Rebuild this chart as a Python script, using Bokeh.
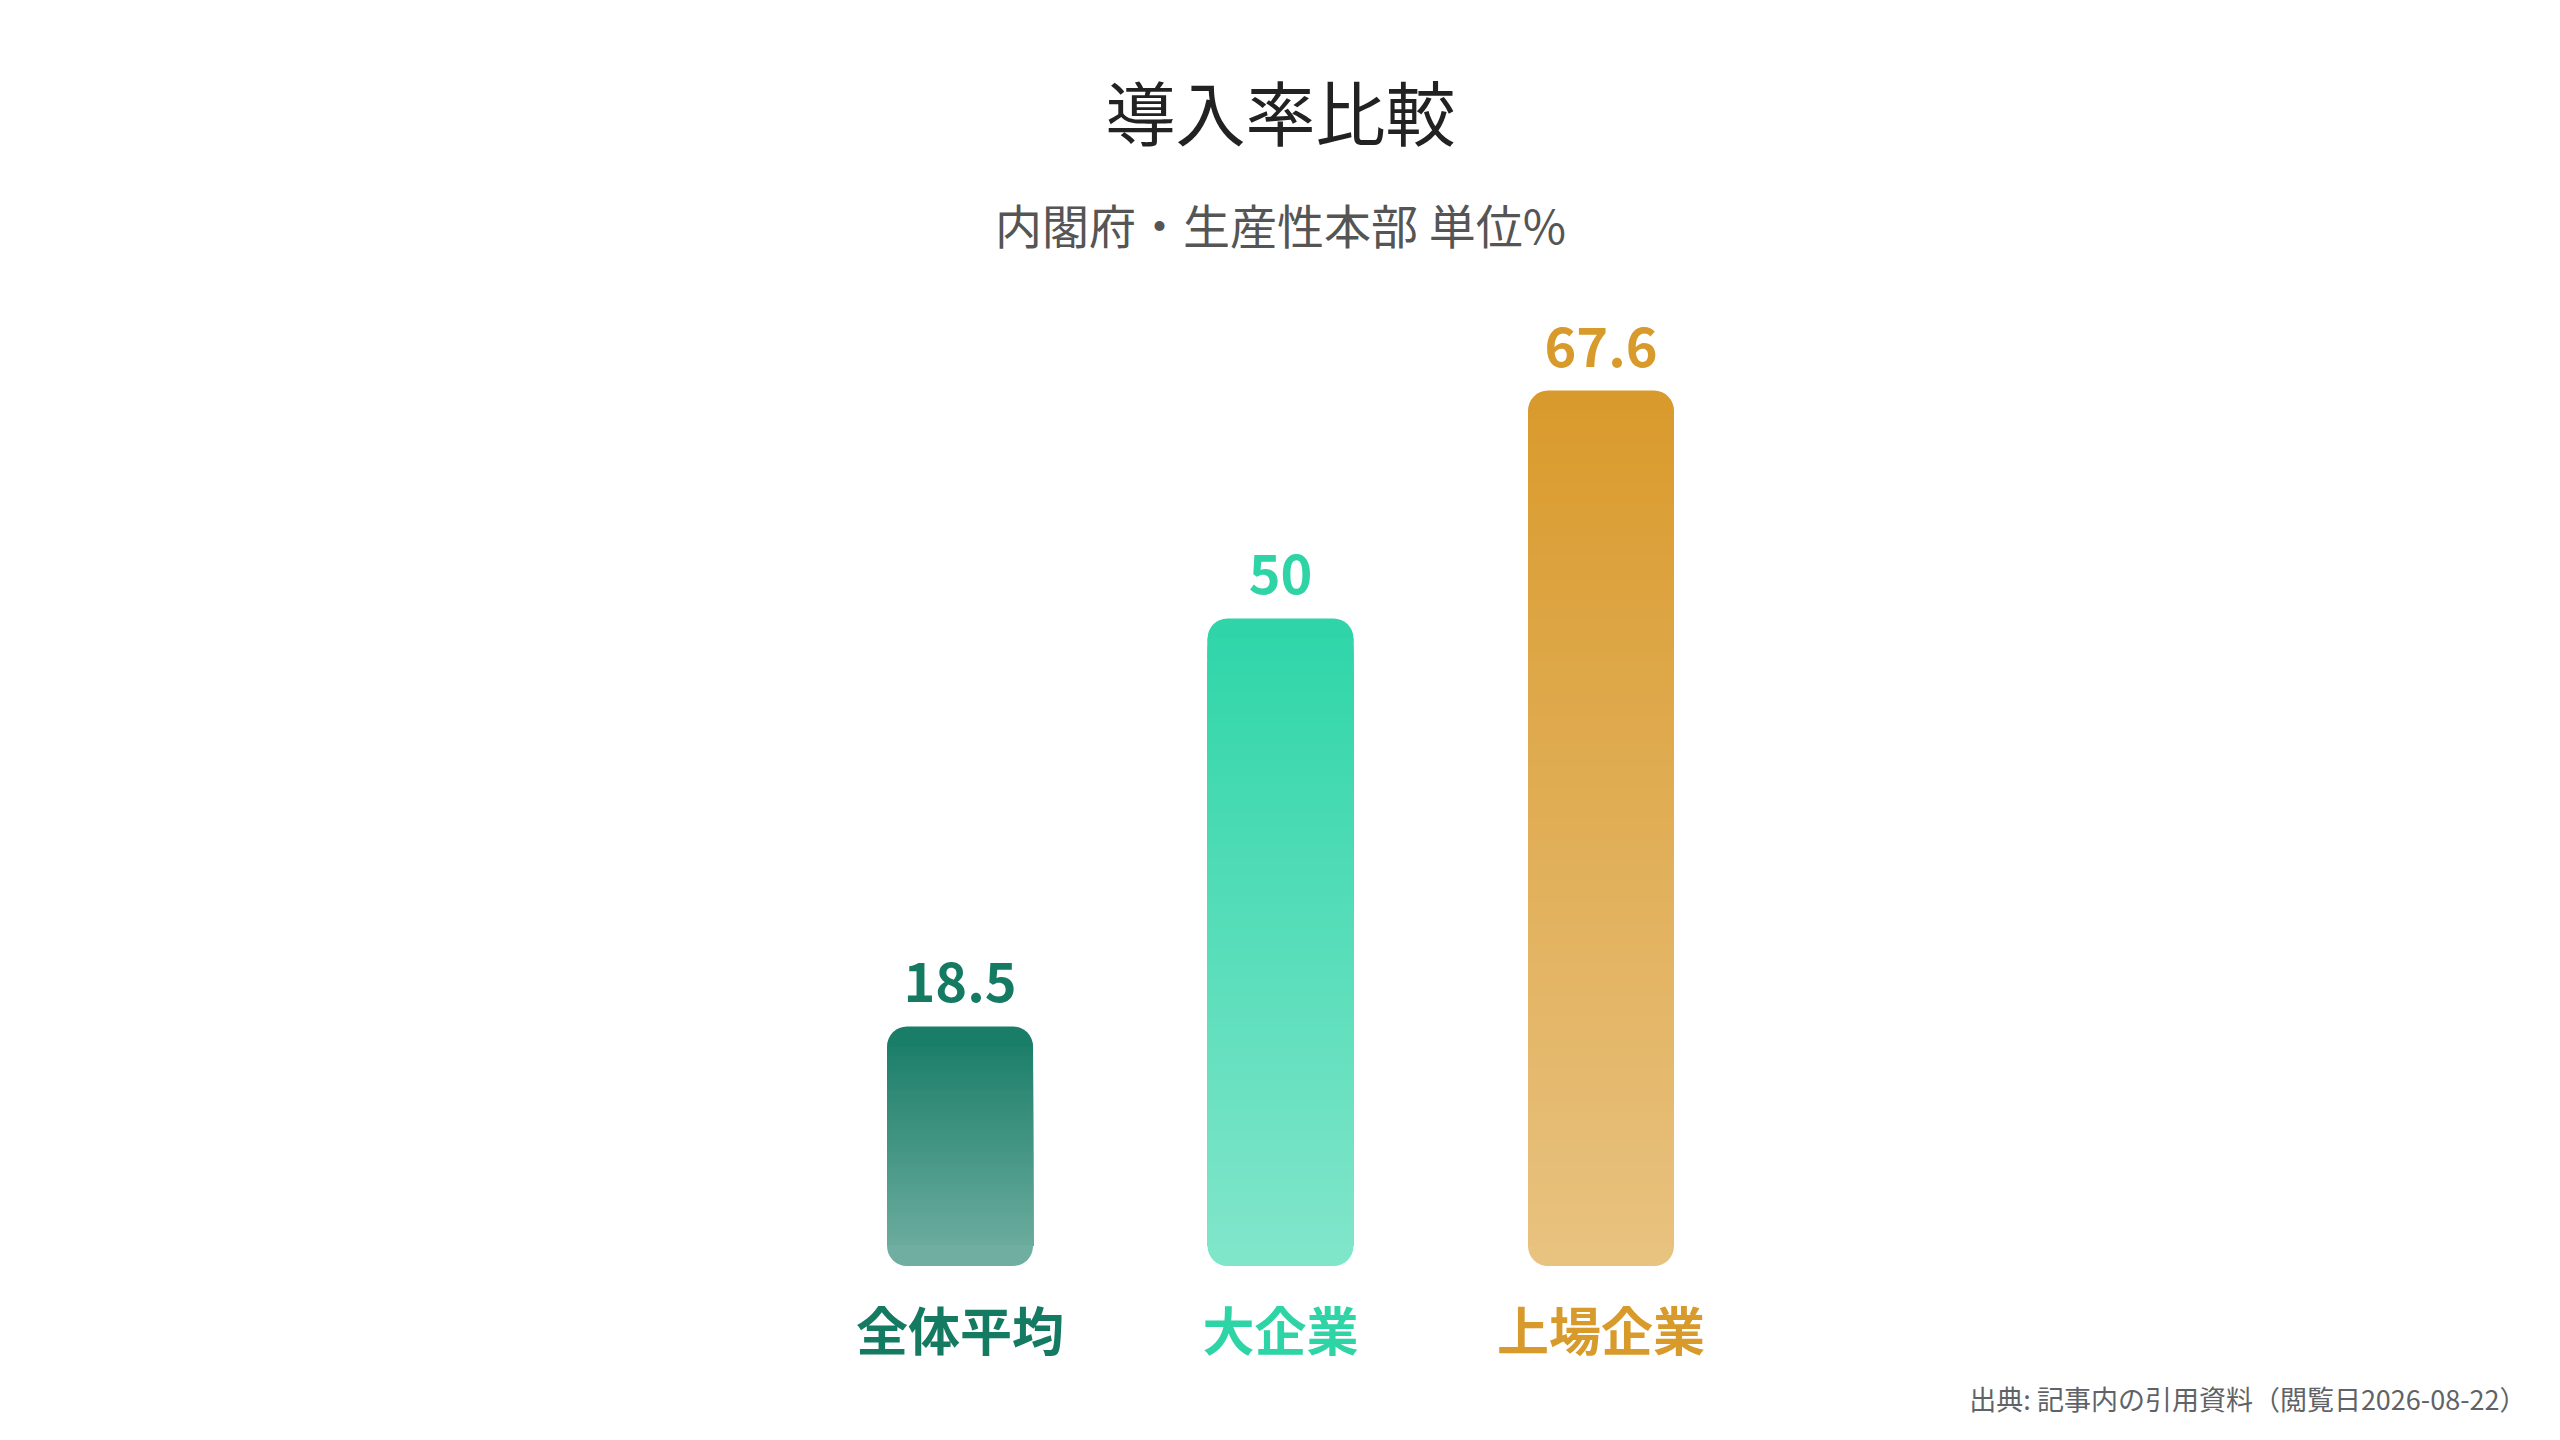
from bokeh.plotting import figure
from bokeh.models import ColumnDataSource, Range1d
from bokeh.core.properties import value
from bokeh.embed import file_html
from bokeh.resources import INLINE

# ---- data ----
categories = ["全体平均", "大企業", "上場企業"]
rates = [18.5, 50, 67.6]
top_colors = ["#157b65", "#2ed5a8", "#d99a2c"]
label_colors = ["#157a62", "#2fd4a6", "#d99a2c"]
title_text = "導入率比較"
subtitle_text = "内閣府・生産性本部 単位%"
footer_text = "出典: 記事内の引用資料（閲覧日2026-08-22）"

W, H = 2544, 1424
FONT = "Noto Sans CJK JP"
PX_PER_UNIT = 12.95
R = 20  # corner radius (px)
rr = R / PX_PER_UNIT

xs = list(range(len(categories)))

p = figure(width=W, height=H, output_backend="svg", toolbar_location=None,
           x_axis_type=None, y_axis_type=None, min_border=0,
           x_range=Range1d(1 - 3.969 - 0.025, 1 + 3.969 - 0.025),
           y_range=Range1d(-12.24, 97.72))
p.outline_line_color = None
p.grid.visible = False
p.background_fill_color = "white"
p.border_fill_color = "white"


def hex_to_rgb(h):
    h = h.lstrip("#")
    return tuple(int(h[i:i + 2], 16) for i in (0, 2, 4))


def fade(h, a):
    r, g, b = hex_to_rgb(h)
    return "#%02x%02x%02x" % tuple(round(255 - a * (255 - c)) for c in (r, g, b))


FADE = 0.40
BW = 0.4555


def grad_color(h, y, v):
    # colour at height y of a bar of height v (top = full colour)
    return fade(h, 1.0 - FADE * (1.0 - y / v))


# top caps, bottom caps and gradient body (stacked slices)
cap_x, cap_top, cap_bot, cap_col = [], [], [], []
bot_x, bot_top, bot_col = [], [], []
bx, btop, bcol, bbot = [], [], [], []
N = 80
for i, v in enumerate(rates):
    cap_x.append(xs[i]); cap_top.append(v); cap_bot.append(v - 2 * rr)
    cap_col.append(grad_color(top_colors[i], v - 0.5 * rr, v))
    bot_x.append(xs[i]); bot_top.append(rr + 0.08)
    bot_col.append(grad_color(top_colors[i], 0.5 * rr, v))
    step = (v - 2 * rr) / N
    for k in range(N):
        t = rr + (v - 2 * rr) - k * step
        bx.append(xs[i]); btop.append(t); bbot.append(rr)
        bcol.append(grad_color(top_colors[i], t - 0.5 * step, v))

p.vbar(x=cap_x, top=cap_top, bottom=cap_bot, width=BW, fill_color=cap_col,
       line_color=None, border_radius=(R, R, 0, 0))
p.vbar(x=bx, top=btop, bottom=bbot, width=BW, fill_color=bcol, line_color=None)
p.vbar(x=bot_x, top=bot_top, bottom=0, width=BW, fill_color=bot_col,
       line_color=None, border_radius=(0, 0, R, R))

# value labels
vsrc = ColumnDataSource(dict(x=xs, y=rates, t=["%g" % v for v in rates],
                             c=label_colors, cat=categories, z=[0] * len(xs)))
p.text(x="x", y="y", text="t", source=vsrc, text_color="c",
       text_font=value(FONT), text_font_style="bold", text_font_size="54px",
       text_align="center", text_baseline="middle", y_offset=-44)

# category labels
p.text(x="x", y="z", text="cat", source=vsrc, text_color="c",
       text_font=value(FONT), text_font_style="bold", text_font_size="52px",
       text_align="center", text_baseline="middle", y_offset=63)

# title / subtitle / footer
top_y = p.y_range.end
p.text(x=[1], y=[top_y], text=[title_text], text_color="#222222",
       text_font=value(FONT), text_font_size="70px",
       text_align="center", text_baseline="middle", y_offset=110)
p.text(x=[1], y=[top_y], text=[subtitle_text], text_color="#555555",
       text_font=value(FONT), text_font_size="47px",
       text_align="center", text_baseline="middle", y_offset=223)
p.text(x=[p.x_range.end], y=[p.y_range.start], text=[footer_text],
       text_color="#5f6368", text_font=value(FONT), text_font_size="27px",
       text_align="right", text_baseline="middle", x_offset=-18, y_offset=-26)

open("out.html", "w").write(file_html(p, INLINE))
